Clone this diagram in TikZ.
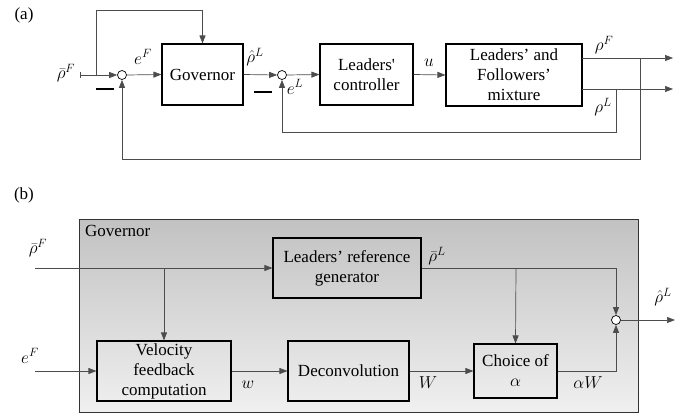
\documentclass[tikz,border=0pt]{standalone}
\usepackage{fontspec}
\setmainfont{Liberation Serif}
\newfontfamily\straightfont{Liberation Serif}
\usetikzlibrary{arrows.meta,calc}
\begin{document}
\begin{tikzpicture}[x=1pt,y=-1pt,
  font=\fontsize{17}{20}\selectfont,
  blk/.style={draw=black, line width=1.1pt, align=center, inner sep=0pt, rectangle},
  sumc/.style={circle, draw=black, fill=white, line width=0.7pt, minimum size=9pt, inner sep=0pt},
  sig/.style={draw=black!70, line width=0.7pt},
  arr/.style={sig, -{Triangle[length=8pt,width=6pt]}},
  lbl/.style={inner sep=0pt},
  minus/.style={inner sep=0pt}]
\useasboundingbox (0,0) rectangle (696,418);

% ---------------- (a) ----------------
\node[lbl] (la) at (24,15) {(a)};
\node[blk, minimum width=81pt, minimum height=61pt] (gov) at (202.5,74.5) {Governor};
\node[blk, minimum width=93pt, minimum height=61pt] (ctrl) at (366.5,74.5) {Leaders{\straightfont'}\\controller};
\node[blk, minimum width=136pt, minimum height=62pt] (mix) at (514,75) {Leaders’ and\\Followers’\\mixture};
\node[sumc] (s1) at (122,75) {};
\node[sumc] (s2) at (282,75) {};
\coordinate (in1) at (80,75);
\coordinate (br1) at (96,75);
\coordinate (oF) at (582,58);
\coordinate (oL) at (582,89);
\coordinate (eF) at (673,58);
\coordinate (eL) at (673,89);
\coordinate (fbF) at (640,58);
\coordinate (fbL) at (616,89);

\draw[sig, arrows={{Bar[width=6pt,line width=0.5pt]}-{Triangle[length=8pt,width=6pt]}}] (in1) -- (s1.west);
\draw[arr] (br1) -- (96,10) -| (gov.north);
\draw[arr] (s1.east) -- (gov.west);
\draw[arr] (gov.east) -- (s2.west);
\draw[arr] (s2.east) -- (ctrl.west);
\draw[arr] (ctrl.east) -- (mix.west);
\draw[arr] (oF) -- (eF);
\draw[arr] (oL) -- (eL);
\draw[arr] (fbL) -- (616,132) -| (s2.south);
\draw[arr] (fbF) -- (640,159) -| (s1.south);

\node[minus] (m1) at (105,89) {\rule{18pt}{1.3pt}};
\node[minus] (m2) at (263,92) {\rule{18pt}{1.3pt}};

\node[lbl] (lrF) at (66,73) {$\bar\rho^F$};
\node[lbl] (leF) at (143,57) {$e^F$};
\node[lbl] (lrhL) at (255,57) {$\hat\rho^L$};
\node[lbl] (leL) at (295,87) {$e^L$};
\node[lbl] (lu) at (429,63) {$u$};
\node[lbl] (lrhoF) at (604,45) {$\rho^F$};
\node[lbl] (lrhoL) at (603,107) {$\rho^L$};

% ---------------- (b) ----------------
\node[lbl] (lb) at (24,195) {(b)};
\node[draw=black!80, line width=1pt, minimum width=559pt, minimum height=193pt, inner sep=0pt,
      top color=black!24, bottom color=black!6] (gbox) at (358.5,315.5) {};
\node[lbl, anchor=west] (gl) at (85,231) {Governor};

\node[blk, minimum width=148pt, minimum height=60pt] (ref) at (347,268) {Leaders’ reference\\generator};
\node[blk, minimum width=134pt, minimum height=60pt] (vel) at (164,371) {Velocity\\feedback\\computation};
\node[blk, minimum width=121pt, minimum height=60pt] (dec) at (348.5,371) {Deconvolution};
\node[blk, minimum width=83pt, minimum height=54pt] (cho) at (515.5,371) {Choice of\\$\alpha$};
\node[sumc] (s3) at (616,320) {};

\coordinate (inB1) at (35,268);
\coordinate (inB2) at (35,371);
\coordinate (brB) at (164,268);
\coordinate (brR) at (516,268);
\coordinate (outB) at (675,320);

\draw[arr] (inB1) -- (ref.west);
\draw[arr] (brB) -- (vel.north);
\draw[arr] (inB2) -- (vel.west);
\draw[arr] (vel.east) -- (dec.west);
\draw[arr] (dec.east) -- (cho.west);
\draw[arr] (ref.east) -| (s3.north);
\draw[arr] (brR) -- (cho.north);
\draw[arr] (cho.east) -| (s3.south);
\draw[arr] (s3.east) -- (outB);

\node[lbl] (lbrF) at (38,248) {$\bar\rho^F$};
\node[lbl] (lbeF) at (30,356) {$e^F$};
\node[lbl] (lw) at (248,385) {$w$};
\node[lbl] (lW) at (428,383) {$W$};
\node[lbl] (laW) at (588,383) {$\alpha W$};
\node[lbl] (lbrL) at (437,256) {$\bar\rho^L$};
\node[lbl] (lhrL) at (663,297) {$\hat\rho^L$};
\end{tikzpicture}
\end{document}
